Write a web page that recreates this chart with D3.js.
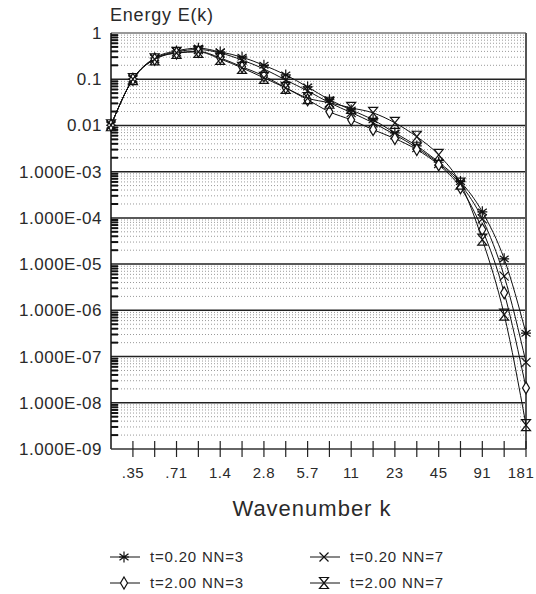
<!DOCTYPE html>
<html lang="en">
<meta charset="utf-8">
<title>Energy spectrum</title>
<style>
  body { margin: 0; background: #fff; }
  svg text { font-family: "Liberation Sans", Arial, sans-serif; fill: #2a2a2a; }
</style>
<body>
<div id="chart"></div>
<script src="https://cdn.jsdelivr.net/npm/d3@7"></script>
<script>
// wavenumbers, half-octave steps from 0.25 to 181
var wavenumbers = [0.25, 0.354, 0.5, 0.707, 1, 1.414, 2, 2.83, 4, 5.66, 8, 11.3, 16, 22.6, 32, 45.3, 64, 90.5, 128, 181];

// E(k)
var t020nn3 = [0.0101, 0.101, 0.288, 0.41, 0.47, 0.39, 0.30, 0.20, 0.124, 0.068, 0.036, 0.0217, 0.0132, 0.0069, 0.0036, 0.0016, 6.1e-4, 1.35e-4, 1.3e-5, 3.2e-7];
var t020nn7 = [0.0101, 0.100, 0.280, 0.39, 0.44, 0.37, 0.26, 0.167, 0.096, 0.056, 0.031, 0.019, 0.0114, 0.0063, 0.0033, 0.0015, 5.3e-4, 9.5e-5, 5.5e-6, 7.5e-8];
var t200nn3 = [0.0101, 0.100, 0.270, 0.37, 0.40, 0.29, 0.185, 0.118, 0.065, 0.036, 0.0197, 0.0132, 0.0081, 0.0052, 0.0030, 0.0014, 4.5e-4, 5.6e-5, 2.4e-6, 2.1e-8];
var t200nn7 = [0.0101, 0.100, 0.270, 0.37, 0.39, 0.275, 0.176, 0.107, 0.065, 0.039, 0.031, 0.024, 0.0187, 0.0114, 0.0057, 0.0023, 5.5e-4, 3.4e-5, 8.1e-7, 3.3e-9];

var seriesNames = ["t=0.20 NN=3", "t=0.20 NN=7", "t=2.00 NN=3", "t=2.00 NN=7"];
var seriesMarks = ["star", "cross", "diamond", "hourglass"];

var xTickValues = [0.354, 0.707, 1.414, 2.83, 5.66, 11.3, 22.6, 45.3, 90.5, 181];
var xTickLabels = [".35", ".71", "1.4", "2.8", "5.7", "11", "23", "45", "91", "181"];
var yTickValues = [1, 0.1, 0.01, 1e-3, 1e-4, 1e-5, 1e-6, 1e-7, 1e-8, 1e-9];
var yTickLabels = ["1", "0.1", "0.01", "1.000E-03", "1.000E-04", "1.000E-05", "1.000E-06", "1.000E-07", "1.000E-08", "1.000E-09"];

var width = 536, height = 594;
var plotLeft = 111, plotRight = 526, plotTop = 33, plotBottom = 449;

var svg = d3.select("#chart").append("svg")
  .attr("width", width).attr("height", height);

var x = d3.scaleLog().base(2).domain([0.25, 181]).range([plotLeft, plotRight]);
var y = d3.scaleLog().domain([1e-9, 1]).range([plotBottom, plotTop]);

// Dotted minor gridlines and short minor ticks on the left.
var minor = [];
for (var e = -9; e < 0; e++) {
  for (var m = 2; m <= 9; m++) minor.push(m * Math.pow(10, e));
}
svg.append("g").selectAll("line").data(minor).join("line")
  .attr("x1", plotLeft + 7).attr("x2", plotRight)
  .attr("y1", function(d) { return y(d); }).attr("y2", function(d) { return y(d); })
  .attr("stroke", "#9a9a9a").attr("stroke-width", 1).attr("stroke-dasharray", "1,2");
svg.append("g").selectAll("line").data(minor).join("line")
  .attr("x1", plotLeft).attr("x2", plotLeft + 7)
  .attr("y1", function(d) { return y(d); }).attr("y2", function(d) { return y(d); })
  .attr("stroke", "#111").attr("stroke-width", 2);

// Solid decade lines.
svg.append("g").selectAll("line").data(yTickValues.slice(0, 9)).join("line")
  .attr("x1", plotLeft).attr("x2", plotRight)
  .attr("y1", function(d) { return y(d); }).attr("y2", function(d) { return y(d); })
  .attr("stroke", function(d) { return d === 1 ? "#777" : "#222"; })
  .attr("stroke-width", 1.5);

// Frame: left axis, right edge, bottom axis.
svg.append("line").attr("x1", plotLeft).attr("x2", plotLeft).attr("y1", plotTop).attr("y2", plotBottom)
  .attr("stroke", "#111").attr("stroke-width", 1.5);
svg.append("line").attr("x1", plotRight).attr("x2", plotRight).attr("y1", plotTop).attr("y2", plotBottom)
  .attr("stroke", "#555").attr("stroke-width", 2);
svg.append("line").attr("x1", plotLeft).attr("x2", plotRight).attr("y1", plotBottom).attr("y2", plotBottom)
  .attr("stroke", "#333").attr("stroke-width", 1.5);

// X ticks at every half octave.
svg.append("g").selectAll("line").data(wavenumbers.slice(1)).join("line")
  .attr("x1", function(d) { return x(d); }).attr("x2", function(d) { return x(d); })
  .attr("y1", plotBottom - 8).attr("y2", plotBottom + 8)
  .attr("stroke", "#222").attr("stroke-width", 1.2);

// Tick labels.
svg.append("g").selectAll("text").data(xTickValues).join("text")
  .attr("x", function(d) { return Math.min(x(d), 521); }).attr("y", 478)
  .attr("text-anchor", "middle").attr("font-size", 15).attr("letter-spacing", 0.5)
  .text(function(d, i) { return xTickLabels[i]; });
svg.append("g").selectAll("text").data(yTickValues).join("text")
  .attr("x", 102).attr("y", function(d) { return y(d) + 6; })
  .attr("text-anchor", "end").attr("font-size", 17).attr("letter-spacing", 0.5)
  .text(function(d, i) { return yTickLabels[i]; });

// Titles.
svg.append("text").attr("x", 110).attr("y", 21).attr("font-size", 18).attr("letter-spacing", 0.8)
  .text("Energy E(k)");
svg.append("text").attr("x", 312).attr("y", 516).attr("text-anchor", "middle")
  .attr("font-size", 22).attr("letter-spacing", 1)
  .text("Wavenumber k");

// Marker shapes.
function markerPath(kind) {
  if (kind === "star") return "M0,-5.5V5.5M-4.5,-3.2L4.5,3.2M-4.5,3.2L4.5,-3.2M-5,0H5";
  if (kind === "cross") return "M-4.5,-4.5L4.5,4.5M-4.5,4.5L4.5,-4.5";
  if (kind === "diamond") return "M0,-6L3.5,0L0,6L-3.5,0Z";
  return "M-4.5,-5.5H4.5L-4.5,5.5H4.5Z";
}

var series = [t020nn3, t020nn7, t200nn3, t200nn7];
var line = d3.line()
  .x(function(d, i) { return x(wavenumbers[i]); })
  .y(function(d) { return y(d); })
  .curve(d3.curveMonotoneX);

series.forEach(function(vals, s) {
  svg.append("path").datum(vals).attr("d", line)
    .attr("fill", "none").attr("stroke", "#111").attr("stroke-width", 1);
  svg.append("g").selectAll("path").data(vals).join("path")
    .attr("transform", function(d, i) { return "translate(" + x(wavenumbers[i]) + "," + y(d) + ")"; })
    .attr("d", markerPath(seriesMarks[s]))
    .attr("fill", seriesMarks[s] === "diamond" ? "#fff" : "none")
    .attr("stroke", "#111").attr("stroke-width", 1.2);
});

// Legend.
var legendPos = [[110, 557], [310, 557], [110, 583], [310, 583]];
seriesNames.forEach(function(name, s) {
  var p = legendPos[s];
  var g = svg.append("g").attr("transform", "translate(" + p[0] + "," + p[1] + ")");
  g.append("line").attr("x1", 0).attr("x2", 30).attr("y1", 0).attr("y2", 0)
    .attr("stroke", "#111").attr("stroke-width", 1);
  g.append("path").attr("transform", "translate(14,0)")
    .attr("d", markerPath(seriesMarks[s]))
    .attr("fill", seriesMarks[s] === "diamond" ? "#fff" : "none")
    .attr("stroke", "#111").attr("stroke-width", 1.2);
  g.append("text").attr("x", 40).attr("y", 5).attr("font-size", 15).attr("letter-spacing", 0.8)
    .text(name);
});
</script>
</body>
</html>
